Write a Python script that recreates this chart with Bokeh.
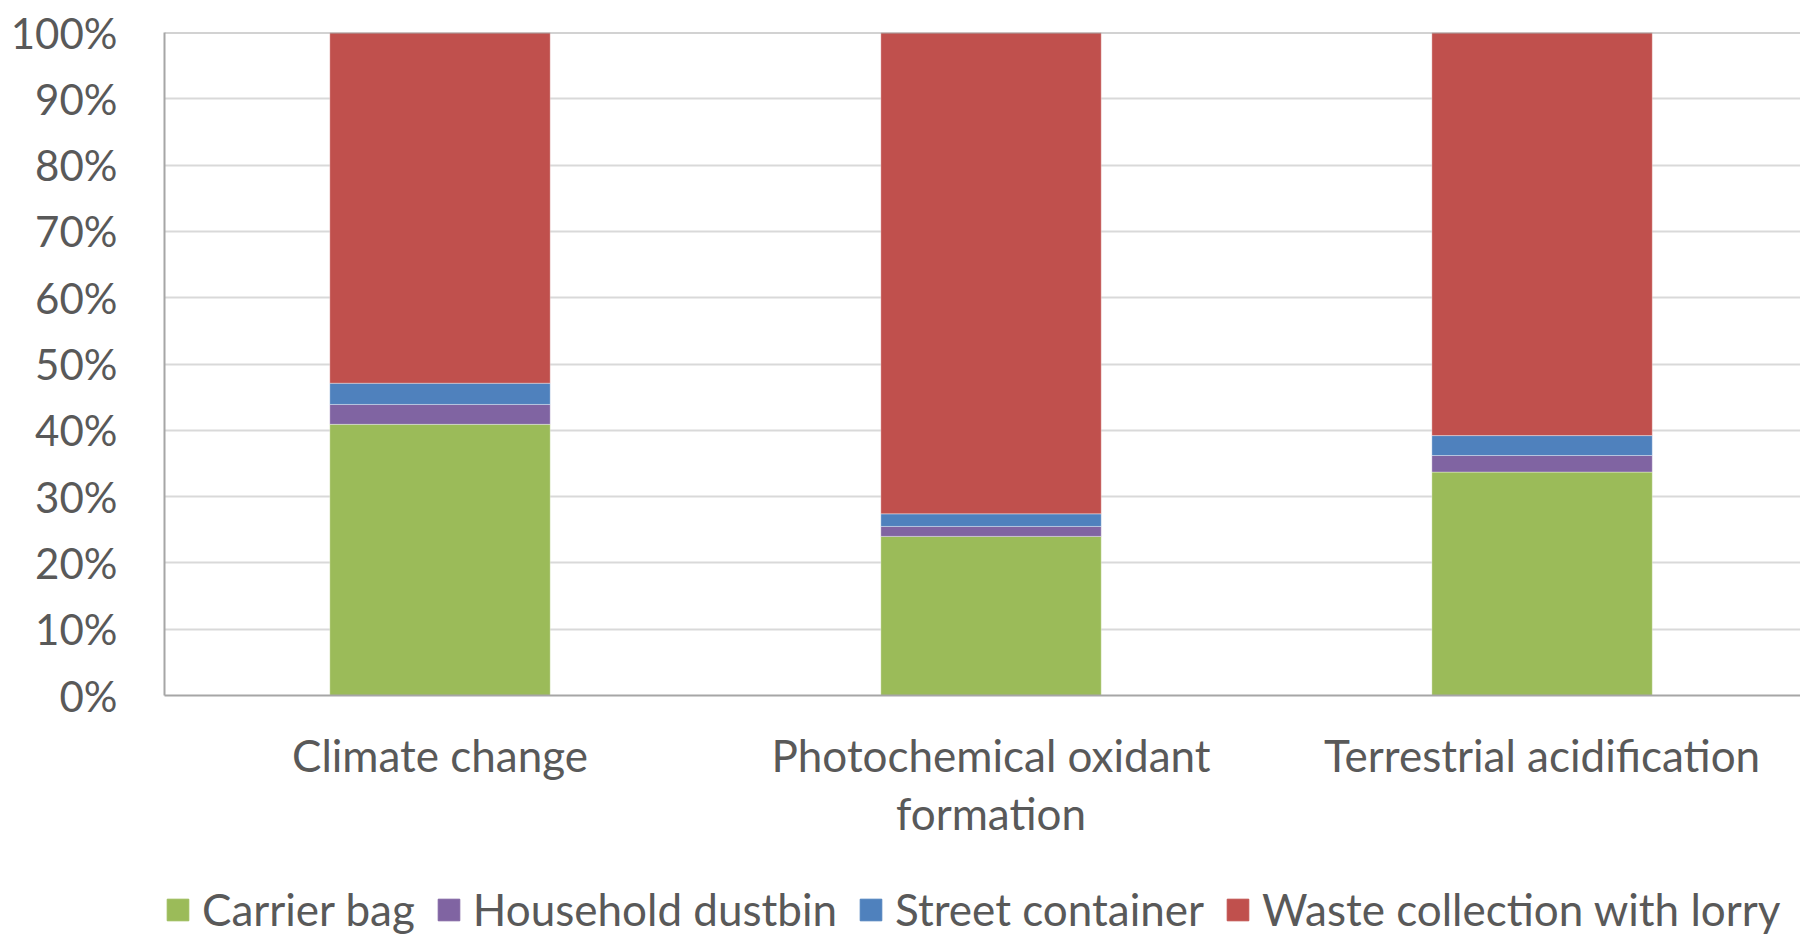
from bokeh.plotting import figure
from bokeh.layouts import column
from bokeh.models import (ColumnDataSource, Range1d, FixedTicker,
                          NumeralTickFormatter, Span, Legend, LegendItem)
from bokeh.embed import file_html
from bokeh.resources import INLINE

# Impact categories and contribution (%) of each stage
categories = ["Climate change", "Photochemical oxidant\nformation", "Terrestrial acidification"]
carrier_bag = [40.9, 24.0, 33.7]
household_dustbin = [3.0, 1.5, 2.5]
street_container = [3.2, 1.9, 3.0]
waste_collection_lorry = [52.9, 72.6, 60.8]

series_names = ["Carrier bag", "Household dustbin", "Street container",
                "Waste collection with lorry"]
series_colors = ["#9bbb59", "#8064a2", "#4f81bd", "#c0504d"]
y_ticks = [i / 10 for i in range(11)]

FONT = "Lato"
TEXT_COLOR = "#595959"
STACK = ["carrier", "dustbin", "street", "lorry"]

xs = [i + 0.5 for i in range(len(categories))]
source = ColumnDataSource(dict(
    x=xs,
    carrier=[v / 100 for v in carrier_bag],
    dustbin=[v / 100 for v in household_dustbin],
    street=[v / 100 for v in street_container],
    lorry=[v / 100 for v in waste_collection_lorry],
))

p = figure(width=1800, height=845, output_backend="svg", toolbar_location=None,
           x_range=Range1d(0, 2.969), y_range=Range1d(0, 1),
           min_border_left=164, min_border_right=0,
           min_border_top=32, min_border_bottom=150)
p.outline_line_color = None
p.background_fill_color = "white"
p.border_fill_color = "white"

p.vbar_stack(STACK, x="x", width=0.4, color=series_colors,
             line_color="white", line_alpha=0.35, line_width=1, source=source)

# top boundary line of the plotting area
p.add_layout(Span(location=1.0, dimension="width", line_color="#a6a6a6", line_width=2))

# y axis
yax = p.yaxis[0]
yax.ticker = FixedTicker(ticks=y_ticks)
yax.formatter = NumeralTickFormatter(format="0%")
yax.major_tick_line_color = None
yax.minor_tick_line_color = None
yax.axis_line_color = "#a6a6a6"
yax.axis_line_width = 2
yax.major_label_standoff = 41
yax.major_label_text_font = FONT
yax.major_label_text_font_size = "42px"
yax.major_label_text_color = TEXT_COLOR

# x axis
xax = p.xaxis[0]
xax.ticker = FixedTicker(ticks=xs)
xax.major_label_overrides = {x: c for x, c in zip(xs, categories)}
xax.major_tick_line_color = None
xax.minor_tick_line_color = None
xax.axis_line_color = "#a6a6a6"
xax.axis_line_width = 2
xax.major_label_standoff = 27
xax.major_label_text_font = FONT
xax.major_label_text_font_size = "44px"
xax.major_label_text_color = TEXT_COLOR
xax.major_label_text_line_height = 1.12

p.xgrid.grid_line_color = None
p.ygrid.ticker = FixedTicker(ticks=y_ticks)
p.ygrid.grid_line_color = "#d9d9d9"
p.ygrid.grid_line_width = 2

# legend strip under the chart (its stack is kept outside the visible range)
q = figure(width=1800, height=90, output_backend="svg", toolbar_location=None,
           x_range=Range1d(10, 11), y_range=Range1d(10, 11),
           x_axis_location=None, y_axis_location=None,
           min_border=0, min_border_left=0, min_border_right=0,
           min_border_top=0, min_border_bottom=0)
q.outline_line_color = None
q.xgrid.grid_line_color = None
q.ygrid.grid_line_color = None
swatches = q.vbar_stack(STACK, x="x", width=0.4, color=series_colors, source=source)

lg = Legend(items=[LegendItem(label=n, renderers=[r]) for n, r in zip(series_names, swatches)])
lg.orientation = "horizontal"
lg.nrows = 1
lg.location = (0, 0)
lg.border_line_color = None
lg.background_fill_alpha = 0
lg.padding = 0
lg.margin = 0
lg.spacing = 20
lg.glyph_width = 27
lg.glyph_height = 27
lg.label_standoff = 11
lg.label_text_font = FONT
lg.label_text_font_size = "44px"
lg.label_text_color = TEXT_COLOR
q.add_layout(lg)

open("out.html", "w").write(file_html(column(p, q), INLINE))
